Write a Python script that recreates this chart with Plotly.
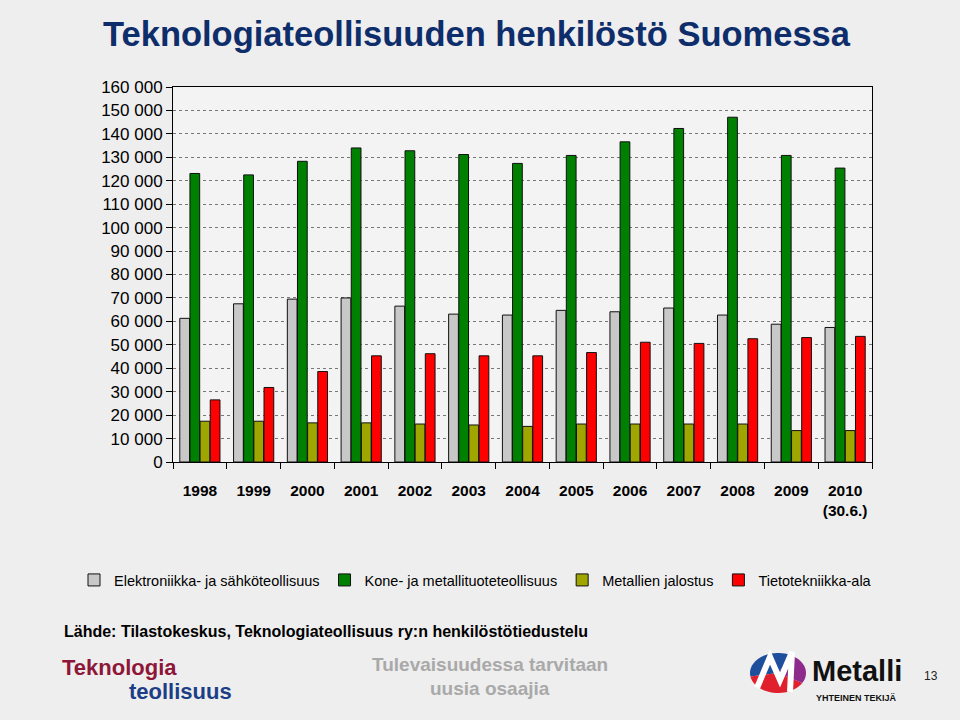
import math
import plotly.graph_objects as go

years = ["1998", "1999", "2000", "2001", "2002", "2003", "2004",
         "2005", "2006", "2007", "2008", "2009", "2010"]
year_labels = ["1998", "1999", "2000", "2001", "2002", "2003", "2004",
               "2005", "2006", "2007", "2008", "2009", "2010<br>(30.6.)"]

elektroniikka = [61300, 67500, 69500, 70000, 66500, 63100, 62700,
                 64700, 64100, 65700, 62700, 58800, 57400]
kone_metalli = [123100, 122500, 128300, 134000, 132800, 131200, 127400,
                130800, 136600, 142300, 147100, 130800, 125400]
metallien_jalostus = [17400, 17400, 16700, 16700, 16200, 15800, 15200,
                      16200, 16200, 16200, 16200, 13400, 13400]
tietotekniikka = [26500, 31800, 38600, 45300, 46200, 45300, 45300,
                  46700, 51100, 50600, 52600, 53100, 53600]

series_names = ["Elektroniikka- ja sähköteollisuus", "Kone- ja metallituoteteollisuus",
                "Metallien jalostus", "Tietotekniikka-ala"]
series_values = [elektroniikka, kone_metalli, metallien_jalostus, tietotekniikka]
series_colors = ["#C8C8C8", "#008000", "#9FA600", "#FF0000"]

y_ticks = list(range(0, 160001, 10000))

# plot area in pixels
L, R, T, B = 173, 872, 87, 462
W, H = 960, 720


def px(x, y):
    return (x - L) / (R - L), (B - y) / (B - T)


fig = go.Figure()
for name, vals, col in zip(series_names, series_values, series_colors):
    fig.add_trace(go.Bar(
        x=years, y=vals, name=name,
        marker=dict(color=col, line=dict(color="#111111", width=1)),
    ))

sans = "Liberation Sans, Arial, sans-serif"

fig.update_layout(
    width=W, height=H,
    margin=dict(l=L, r=W - R, t=T, b=H - B, autoexpand=False),
    paper_bgcolor="#EEEEEE",
    plot_bgcolor="#F3F3F3",
    separators=", ",
    barmode="group",
    bargap=0.245,
    bargroupgap=0.04,
    font=dict(family=sans, color="#000000"),
    title=dict(
        text="<b>Teknologiateollisuuden henkilöstö Suomessa</b>",
        font=dict(family=sans, size=34.5, color="#0E2D6B"),
        x=103 / W, xanchor="left", xref="container",
        y=1 - 34 / H, yanchor="middle", yref="container",
    ),
    showlegend=True,
    legend=dict(
        orientation="h",
        x=px(74, 0)[0], xanchor="left",
        y=px(0, 580)[1], yanchor="middle",
        font=dict(family=sans, size=14.5, color="#000000"),
        bgcolor="rgba(0,0,0,0)",
        itemclick=False, itemdoubleclick=False,
        tracegroupgap=0,
    ),
)

fig.update_yaxes(
    range=[0, 160000],
    tickvals=y_ticks,
    tickformat=",d",
    tickfont=dict(family=sans, size=17, color="#000000"),
    ticks="outside", ticklen=6, tickcolor="#000000",
    showgrid=True, gridcolor="#777777", griddash="dot", gridwidth=1,
    showline=True, linecolor="#000000", linewidth=1, mirror=True,
    zeroline=False,
)
fig.update_xaxes(
    type="category",
    tickvals=years, ticktext=["<b>" + t.replace("<br>", "</b><br><b>") + "</b>" for t in year_labels],
    tickson="boundaries",
    tickangle=0,
    ticks="outside", ticklen=6, tickcolor="#000000",
    ticklabelstandoff=14,
    tickfont=dict(family=sans, size=15.5, color="#000000"),
    showline=True, linecolor="#000000", linewidth=1, mirror=True,
    showgrid=False,
)

# Source line
sx, sy = px(62, 631)
fig.add_annotation(
    text="<b>Lähde: Tilastokeskus, Teknologiateollisuus ry:n henkilöstötiedustelu</b>",
    x=sx, y=sy, xref="paper", yref="paper", xanchor="left", yanchor="middle",
    showarrow=False, font=dict(family=sans, size=16, color="#000000"),
)

# Footer logos (text)
ax, ay = px(60, 667)
fig.add_annotation(text="<b>Teknologia</b>", x=ax, y=ay, xref="paper", yref="paper",
                   xanchor="left", yanchor="middle", showarrow=False,
                   font=dict(family=sans, size=22, color="#8E1638"))
ax, ay = px(127, 691)
fig.add_annotation(text="<b>teollisuus</b>", x=ax, y=ay, xref="paper", yref="paper",
                   xanchor="left", yanchor="middle", showarrow=False,
                   font=dict(family=sans, size=22, color="#1C3E86"))
ax, ay = px(490, 664)
fig.add_annotation(text="<b>Tulevaisuudessa tarvitaan</b>", x=ax, y=ay, xref="paper", yref="paper",
                   xanchor="center", yanchor="middle", showarrow=False,
                   font=dict(family=sans, size=19, color="#A9A9A9"))
ax, ay = px(490, 688)
fig.add_annotation(text="<b>uusia osaajia</b>", x=ax, y=ay, xref="paper", yref="paper",
                   xanchor="center", yanchor="middle", showarrow=False,
                   font=dict(family=sans, size=19, color="#A9A9A9"))
ax, ay = px(810, 671)
fig.add_annotation(text="<b>Metalli</b>", x=ax, y=ay, xref="paper", yref="paper",
                   xanchor="left", yanchor="middle", showarrow=False,
                   font=dict(family=sans, size=29, color="#111111"))
ax, ay = px(856, 698)
fig.add_annotation(text="<b>YHTEINEN TEKIJÄ</b>", x=ax, y=ay, xref="paper", yref="paper",
                   xanchor="center", yanchor="middle", showarrow=False,
                   font=dict(family=sans, size=9, color="#111111"))
ax, ay = px(931, 676)
fig.add_annotation(text="13", x=ax, y=ay, xref="paper", yref="paper",
                   xanchor="center", yanchor="middle", showarrow=False,
                   font=dict(family=sans, size=12, color="#222222"))


# Metalli emblem: ellipse sectors
def sector(cx, cy, rx, ry, a0, a1, n=24):
    pts = [(cx, cy)]
    for i in range(n + 1):
        a = math.radians(a0 + (a1 - a0) * i / n)
        pts.append((cx + rx * math.cos(a), cy - ry * math.sin(a)))
    s = ""
    for j, (x, y) in enumerate(pts):
        u, v = px(x, y)
        s += ("M" if j == 0 else "L") + f"{u:.5f},{v:.5f} "
    return s + "Z"


cx, cy, rx, ry = 778, 673, 28, 20
for a0, a1, col in [(60, 190, "#1E4F9C"), (190, 330, "#E0202C"), (-30, 60, "#8E2A8C")]:
    fig.add_shape(type="path", path=sector(cx, cy, rx, ry, a0, a1), xref="paper", yref="paper",
                  fillcolor=col, line=dict(width=0), layer="above")
# white "M" stroke
mpts = [(757, 688), (770, 657), (780, 680), (792, 652), (790, 692)]
mpath = ""
for j, (x, y) in enumerate(mpts):
    u, v = px(x, y)
    mpath += ("M" if j == 0 else "L") + f"{u:.5f},{v:.5f} "
fig.add_shape(type="path", path=mpath, xref="paper", yref="paper",
              line=dict(color="white", width=6), layer="above")

fig.write_html(
    "out.html",
    config={"displayModeBar": False},
    post_script="document.body.style.margin='0';document.body.style.background='#EEEEEE';",
)
